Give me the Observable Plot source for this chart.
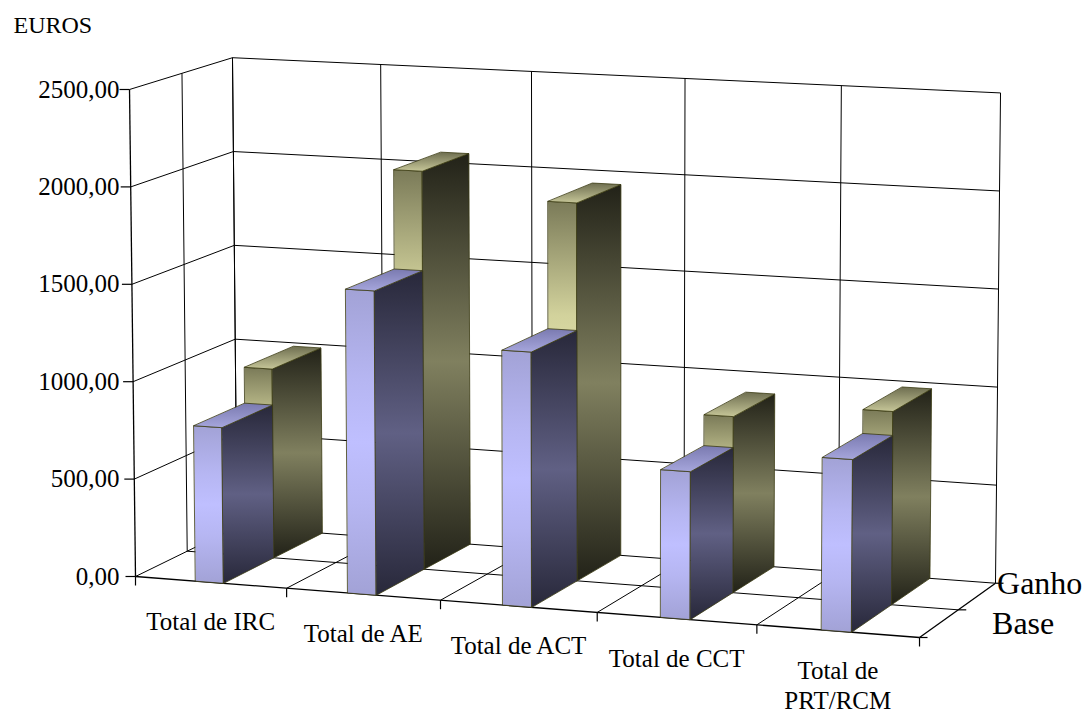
<!DOCTYPE html>
<html><head><meta charset="utf-8">
<script src="https://cdn.jsdelivr.net/npm/d3@7"></script>
<script src="https://cdn.jsdelivr.net/npm/@observablehq/plot@0.6"></script>
<style>html,body{margin:0;padding:0;background:#fff;} #chart{width:1089px;height:713px;overflow:hidden}</style>
</head><body><div id="chart"></div>
<script>
// ---------- data ----------
const categories = ["Total de IRC", "Total de AE", "Total de ACT", "Total de CCT", "Total de PRT/RCM"];
const categoryLabels = ["Total de IRC", "Total de AE", "Total de ACT", "Total de CCT", "Total de\nPRT/RCM"];
const seriesNames = ["Base", "Ganho"];
const baseValues  = [795, 1540, 1280, 735, 850];
const ganhoValues = [982, 2053, 1932, 892, 970];
const valueTicks = [0, 500, 1000, 1500, 2000, 2500];
const valueTickLabels = ["0,00", "500,00", "1000,00", "1500,00", "2000,00", "2500,00"];
const unitLabel = "EUROS";

// ---------- 3D projection (category X, value Y, depth Z) -> screen ----------
const YMAX = 2500;
const NC = categories.length, ND = seriesNames.length;
function floorPt(X, Z) {
  const w = 1 - 0.00898 * X + 0.01908 * Z;
  return [(148.55 * X + 55.27 * Z + 135) / w, (6.48 * X - 14.8 * Z + 576) / w, w];
}
const VP = [604, 38700];
function P(X, Y, Z) {
  const [u, v, w] = floorPt(X, Z);
  const hy = -487 / w;
  const hx = hy * (u - VP[0]) / (v - VP[1]);
  const t = Y / YMAX;
  return [u + hx * t, v + hy * t];
}

// ---------- gridlines / frame segments ----------
const segs = [];
const seg = (a, b, kind) => segs.push({a: P(...a), b: P(...b), kind});
const vmax = valueTicks[valueTicks.length - 1];
valueTicks.slice(1).forEach(v => {
  seg([0, v, 0], [0, v, ND], "grid");      // side wall
  seg([0, v, ND], [NC, v, ND], "grid");    // back wall
});
for (let i = 0; i <= NC; i++) seg([i, 0, ND], [i, vmax, ND], "grid");   // back wall verticals
for (let d = 1; d <= ND; d++) seg([0, 0, d], [0, vmax, d], "grid");     // side wall verticals
for (let i = 1; i < NC; i++) seg([i, 0, 0], [i, 0, ND], "grid");        // floor depth lines
for (let d = 1; d <= ND; d++) seg([0, 0, d], [NC, 0, d], "grid");       // floor cross lines
seg([0, 0, 0], [0, 0, ND], "grid");
seg([NC, 0, 0], [NC, 0, ND], "axis");
seg([0, 0, 0], [NC, 0, 0], "axis");
seg([0, 0, 0], [0, vmax, 0], "axis");

// ticks
const ticks = [];
valueTicks.forEach(v => { const p = P(0, v, 0); ticks.push({x1: p[0], y1: p[1], x2: p[0] - 10, y2: p[1]}); });
for (let i = 0; i <= NC; i++) { const p = P(i, 0, 0); ticks.push({x1: p[0], y1: p[1], x2: p[0], y2: p[1] + 9}); }
for (let d = 0; d <= ND; d++) { const p = P(NC, 0, d); ticks.push({x1: p[0], y1: p[1], x2: p[0] + 8, y2: p[1]}); }

// ---------- bars as 3D boxes ----------
const BX0 = 0.40, BX1 = 0.585;
function faces(values, depth) {
  const front = [], right = [], top = [];
  values.forEach((val, i) => {
    const X0 = i + BX0, X1 = i + BX1, Z0 = depth, Z1 = depth + 1;
    const add = (arr, pts) => pts.forEach(q => { const p = P(...q); arr.push({id: i, x: p[0], y: p[1]}); });
    add(front, [[X0, 0, Z0], [X1, 0, Z0], [X1, val, Z0], [X0, val, Z0]]);
    add(right, [[X1, 0, Z0], [X1, 0, Z1], [X1, val, Z1], [X1, val, Z0]]);
    add(top,   [[X0, val, Z0], [X1, val, Z0], [X1, val, Z1], [X0, val, Z1]]);
  });
  return {front, right, top};
}
const ganhoFaces = faces(ganhoValues, 1);
const baseFaces  = faces(baseValues, 0);
const edge = "#3a3a12";
const faceMarks = (f, key) => [
  Plot.line(f.front, {x: "x", y: "y", z: "id", curve: "linear-closed", fill: `url(#${key}Front)`, stroke: edge, strokeWidth: 0.8}),
  Plot.line(f.right, {x: "x", y: "y", z: "id", curve: "linear-closed", fill: `url(#${key}Right)`, stroke: edge, strokeWidth: 0.8}),
  Plot.line(f.top,   {x: "x", y: "y", z: "id", curve: "linear-closed", fill: `url(#${key}Top)`, stroke: edge, strokeWidth: 0.8})
];

// ---------- labels ----------
const valueLabels = valueTicks.map((v, k) => { const p = P(0, v, 0); return {x: 119, y: p[1], t: valueTickLabels[k]}; });
const catText = categoryLabels.map((c, i) => { const p = P(i + 0.5, 0, 0); return {x: p[0], y: p[1] + 27, t: c}; });
const serText = seriesNames.map((s, d) => {
  const p = P(NC, 0, d + 0.5);
  return d === 0 ? {x: p[0] + 53, y: p[1], t: s} : {x: p[0] + 20, y: p[1] - 13, t: s};
});

const font = "'Liberation Serif','Times New Roman',serif";
const chart = Plot.plot({
  width: 1089, height: 713, margin: 0,
  x: {type: "identity", axis: null}, y: {type: "identity", axis: null},
  style: {fontFamily: font, background: "white", color: "black"},
  marks: [
    Plot.link(segs.filter(s => s.kind === "grid"), {x1: d => d.a[0], y1: d => d.a[1], x2: d => d.b[0], y2: d => d.b[1], stroke: "#000", strokeWidth: 1}),
    Plot.link(segs.filter(s => s.kind === "axis"), {x1: d => d.a[0], y1: d => d.a[1], x2: d => d.b[0], y2: d => d.b[1], stroke: "#000", strokeWidth: 1.3}),
    Plot.link(ticks, {x1: "x1", y1: "y1", x2: "x2", y2: "y2", stroke: "#000", strokeWidth: 1.2}),
    ...faceMarks(ganhoFaces, "ganho"),
    ...faceMarks(baseFaces, "base"),
    Plot.text(valueLabels, {x: "x", y: "y", text: "t", textAnchor: "end", lineAnchor: "middle", fontSize: 25}),
    Plot.text(catText, {x: "x", y: "y", text: "t", textAnchor: "middle", lineAnchor: "top", fontSize: 25, lineHeight: 1.18}),
    Plot.text(serText, {x: "x", y: "y", text: "t", textAnchor: "start", lineAnchor: "middle", fontSize: 32}),
    Plot.text([unitLabel], {x: () => 13, y: () => 24.5, text: d => d, textAnchor: "start", lineAnchor: "middle", fontSize: 24})
  ]
});
document.getElementById("chart").appendChild(chart);

// gradient definitions
const defs = d3.select(chart).insert("defs", ":first-child");
function grad(id, stops, x2 = 0, y2 = 1) {
  const g = defs.append("linearGradient").attr("id", id).attr("x1", 0).attr("y1", 0).attr("x2", x2).attr("y2", y2);
  stops.forEach(([o, c]) => g.append("stop").attr("offset", o).attr("stop-color", c));
}
grad("baseFront", [[0, "#a2a2d6"], [0.3, "#b6b6f2"], [0.5, "#bfbfff"], [0.7, "#b6b6f2"], [1, "#a2a2d6"]]);
grad("baseRight", [[0, "#28283a"], [0.5, "#606084"], [1, "#28283a"]]);
grad("baseTop", [[0, "#7a7ab0"], [1, "#a6a6dc"]], 0, 1);
grad("ganhoFront", [[0, "#7a7a58"], [0.3, "#d2d29c"], [0.5, "#e6e6ae"], [0.7, "#d2d29c"], [1, "#7a7a58"]]);
grad("ganhoRight", [[0, "#222218"], [0.5, "#80805f"], [1, "#222218"]]);
grad("ganhoTop", [[0, "#6e6e50"], [1, "#c6c698"]], 0, 1);
</script></body></html>
